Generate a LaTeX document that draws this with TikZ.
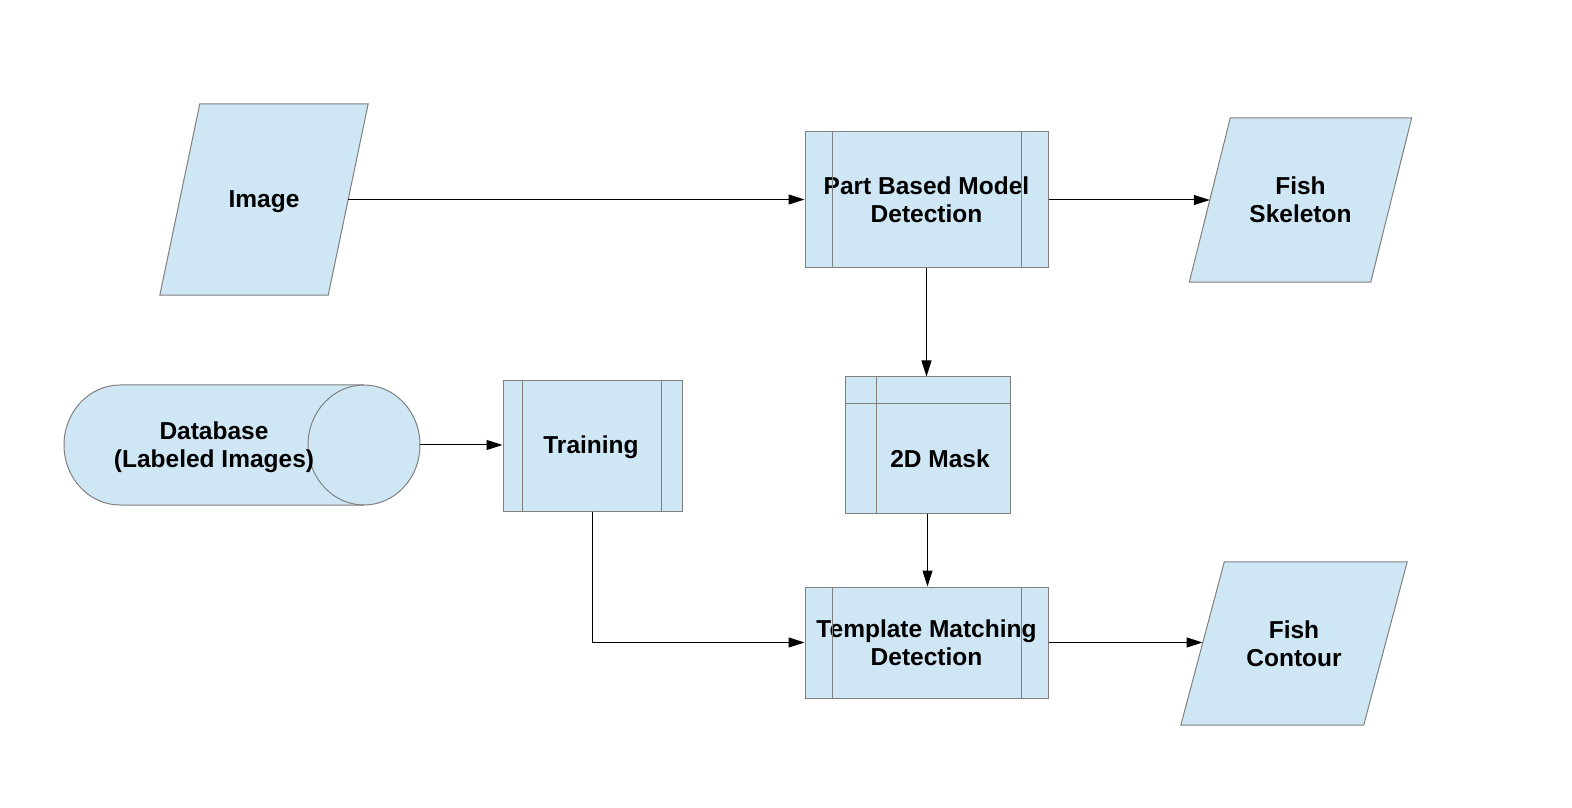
\documentclass[tikz,border=0pt]{standalone}
\usepackage{fontspec}
\setmainfont{Liberation Sans}
\usetikzlibrary{arrows.meta,calc,backgrounds}
\definecolor{boxfill}{HTML}{CFE7F5}
\definecolor{boxline}{HTML}{808080}
\begin{document}
\begin{tikzpicture}[x=1pt,y=1pt,
  lbl/.style={font=\bfseries\fontsize{24.5}{28}\selectfont, align=center, text=black},
  proc/.style={draw=boxline, fill=boxfill, line width=1pt, inner sep=0pt, lbl},
  io/.style={inner sep=0pt, lbl},
  shp/.style={draw=boxline, fill=boxfill, line width=1pt},
  sub/.style={draw=boxline, line width=1pt},
  flow/.style={draw=black, line width=1pt, -{Triangle[length=16pt,width=10pt]}}]
\useasboundingbox (0,0) rectangle (1572,807);

% nodes
\node[io, minimum width=168, minimum height=191] (img) at (264,607.5) {};
\node[lbl] (imgtext) at (264,605) {Image};
\node[proc, minimum width=243, minimum height=136] (pbmd) at (926.5,607) {Part Based Model\\Detection};
\node[io, minimum width=181, minimum height=164] (fs) at (1300.5,607) {Fish\\Skeleton};
\node[inner sep=0pt, minimum width=356, minimum height=120] (db) at (242,362) {};
\node[lbl] (dbtext) at (214,360) {Database\\(Labeled Images)};
\node[proc, minimum width=179, minimum height=130] (train) at (592.5,361) {};
\node[lbl] (traintext) at (591,360) {Training};
\node[proc, minimum width=165, minimum height=136] (mask) at (927.5,362) {};
\node[lbl] (masktext) at (940,348) {2D Mask};
\node[proc, minimum width=243, minimum height=111] (tm) at (926.5,164.5) {Template Matching\\Detection};
\node[io, minimum width=182.5, minimum height=163] (fc) at (1294,163.5) {Fish\\Contour};

% inner lines of process boxes
\draw[sub] ($(pbmd.north west)+(28,0)$) -- ($(pbmd.south west)+(28,0)$);
\draw[sub] ($(pbmd.north east)+(-27,0)$) -- ($(pbmd.south east)+(-27,0)$);
\draw[sub] ($(tm.north west)+(28,0)$) -- ($(tm.south west)+(28,0)$);
\draw[sub] ($(tm.north east)+(-27,0)$) -- ($(tm.south east)+(-27,0)$);
\draw[sub] ($(train.north west)+(20,0)$) -- ($(train.south west)+(20,0)$);
\draw[sub] ($(train.north east)+(-21,0)$) -- ($(train.south east)+(-21,0)$);
\draw[sub] ($(mask.north west)+(32,0)$) -- ($(mask.south west)+(32,0)$);
\draw[sub] ($(mask.north west)+(0,-27)$) -- ($(mask.north east)+(0,-27)$);

\begin{scope}[on background layer]
\fill[white] (0,0) rectangle (1572,807);
\path[shp] ($(img.north west)+(20,0)$) -- ($(img.north east)+(20,0)$) -- ($(img.south east)+(-20,0)$) -- ($(img.south west)+(-20,0)$) -- cycle;
\path[shp] ($(fs.north west)+(20.5,0)$) -- ($(fs.north east)+(20.5,0)$) -- ($(fs.south east)+(-20.5,0)$) -- ($(fs.south west)+(-20.5,0)$) -- cycle;
\path[shp] ($(fc.north west)+(21.75,0)$) -- ($(fc.north east)+(21.75,0)$) -- ($(fc.south east)+(-21.75,0)$) -- ($(fc.south west)+(-21.75,0)$) -- cycle;
\path[shp] (364,422) arc[start angle=90, end angle=-90, x radius=56, y radius=60] -- (120,302) arc[start angle=270, end angle=90, x radius=56, y radius=60] -- cycle;
\draw[sub] (364,422) arc[start angle=90, end angle=270, x radius=56, y radius=60];
\end{scope}

% connectors
\draw[flow] (img.east) -- (img.east -| pbmd.west);
\draw[flow] (pbmd.east) -- (pbmd.east -| fs.west);
\draw[flow] (pbmd.south) -- (pbmd.south |- mask.north);
\draw[flow] (mask.south) -- (mask.south |- tm.north);
\draw[flow] (db.east) -- (db.east -| train.west);
\draw[flow] (train.south) |- (tm.west);
\draw[flow] (tm.east) -- (tm.east -| fc.west);
\end{tikzpicture}
\end{document}
